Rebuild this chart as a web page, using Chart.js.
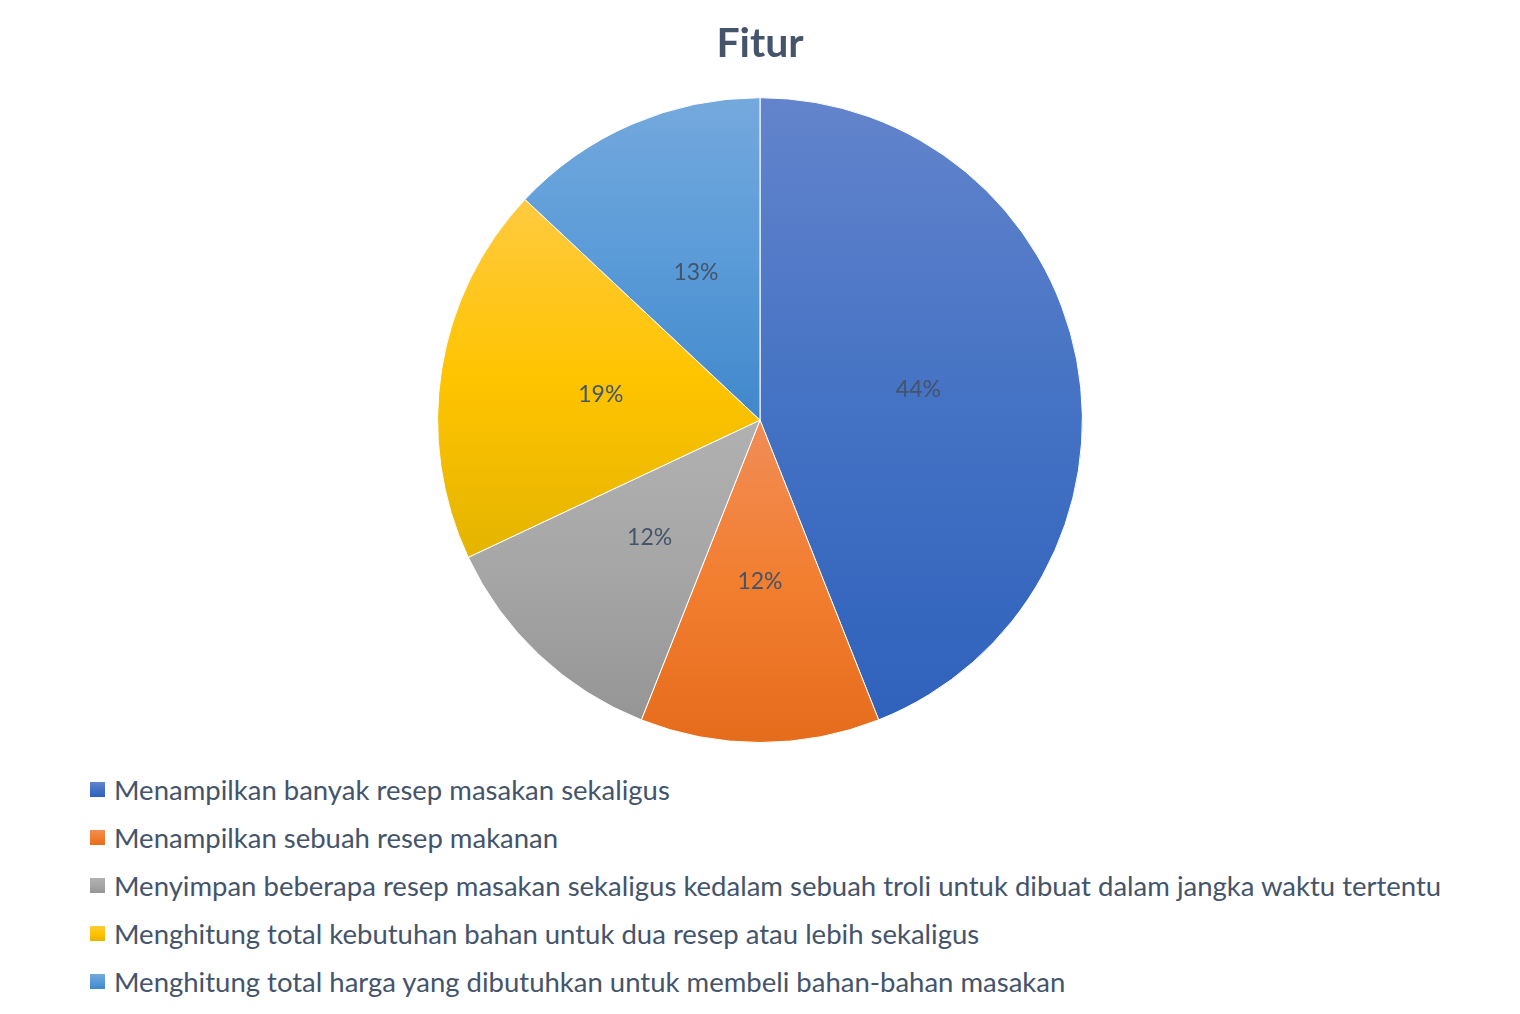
<!DOCTYPE html>
<html lang="id">
<head>
<meta charset="utf-8">
<title>Fitur</title>
<script src="https://cdn.jsdelivr.net/npm/chart.js@4/dist/chart.umd.min.js"></script>
<style>
  body { margin:0; background:#fff; font-family: Lato, sans-serif; }
  #box { width:1520px; height:760px; position:relative; }
  #legend { list-style:none; margin:0; padding:5px 0 0 90px; }
  #legend li { height:48px; font-size:27.5px; color:#44546A; display:flex; align-items:center; }
  #legend .sw { width:15px; height:15px; margin-right:9px; flex:none; }
</style>
</head>
<body>

<div id="box"><canvas id="pie"></canvas></div>
<ul id="legend"></ul>

<script>
const labels = [
  'Menampilkan banyak resep masakan sekaligus',
  'Menampilkan sebuah resep makanan',
  'Menyimpan beberapa resep masakan sekaligus kedalam sebuah troli untuk dibuat dalam jangka waktu tertentu',
  'Menghitung total kebutuhan bahan untuk dua resep atau lebih sekaligus',
  'Menghitung total harga yang dibutuhkan untuk membeli bahan-bahan masakan'
];
const values = [44, 12, 12, 19, 13];
const topColors = ['#6384CC', '#F18D57', '#B1B1B1', '#FFCA40', '#74A9DD'];
const midColors = ['#4472C4', '#F27E30', '#A6A6A6', '#FFC400', '#5A9BD8'];
const bottomColors = ['#2F62BC', '#E56C1B', '#959595', '#E4B400', '#4088CB'];

// vertical gradient over each slice's own height (lighter at top)
function sliceFill(c) {
  const chart = c.chart, area = chart.chartArea, i = c.dataIndex;
  if (!area) return midColors[i];
  const cx = (area.left + area.right) / 2, cy = (area.top + area.bottom) / 2;
  const r = Math.min(area.width, area.height) / 2;
  const total = values.reduce((a, b) => a + b, 0);
  let before = 0;
  for (let k = 0; k < i; k++) before += values[k];
  const a0 = before / total * 2 * Math.PI;
  const a1 = (before + values[i]) / total * 2 * Math.PI;
  const ys = [cy, cy - r * Math.cos(a0), cy - r * Math.cos(a1)];
  if (a0 < 1e-9 || a1 > 2 * Math.PI - 1e-9) ys.push(cy - r);
  if (a0 < Math.PI && a1 > Math.PI) ys.push(cy + r);
  const g = chart.ctx.createLinearGradient(0, Math.min(...ys), 0, Math.max(...ys));
  g.addColorStop(0, topColors[i]);
  g.addColorStop(0.5, midColors[i]);
  g.addColorStop(1, bottomColors[i]);
  return g;
}

// percentage labels in the middle of each slice
const pctLabels = {
  id: 'pctLabels',
  afterDatasetsDraw(chart) {
    const ctx = chart.ctx;
    const meta = chart.getDatasetMeta(0);
    ctx.save();
    ctx.font = '23px Lato';
    ctx.fillStyle = '#44546A';
    ctx.textAlign = 'center';
    ctx.textBaseline = 'middle';
    meta.data.forEach((arc, i) => {
      const p = arc.tooltipPosition();
      ctx.fillText(values[i] + '%', p.x, p.y);
    });
    ctx.restore();
  }
};

// legend as html list, one item per line
const htmlLegend = {
  id: 'htmlLegend',
  afterUpdate(chart) {
    const ul = document.getElementById('legend');
    ul.innerHTML = '';
    chart.data.labels.forEach((txt, i) => {
      const li = document.createElement('li');
      const sw = document.createElement('span');
      sw.className = 'sw';
      sw.style.background = 'linear-gradient(' + topColors[i] + ',' + midColors[i] + ',' + bottomColors[i] + ')';
      li.appendChild(sw);
      li.appendChild(document.createTextNode(txt));
      ul.appendChild(li);
    });
  }
};

new Chart(document.getElementById('pie'), {
  type: 'pie',
  data: {
    labels: labels,
    datasets: [{
      data: values,
      backgroundColor: sliceFill,
      borderColor: '#ffffff',
      borderWidth: 1
    }]
  },
  plugins: [pctLabels, htmlLegend],
  options: {
    responsive: true,
    maintainAspectRatio: false,
    animation: false,
    layout: { padding: { top: 0, bottom: 17, left: 0, right: 0 } },
    plugins: {
      legend: { display: false },
      tooltip: { enabled: false },
      title: {
        display: true,
        text: 'Fitur',
        color: '#44546A',
        font: { family: 'Lato', size: 41, weight: 'bold' },
        padding: { top: 19, bottom: 29 }
      }
    }
  }
});
</script>
</body>
</html>
